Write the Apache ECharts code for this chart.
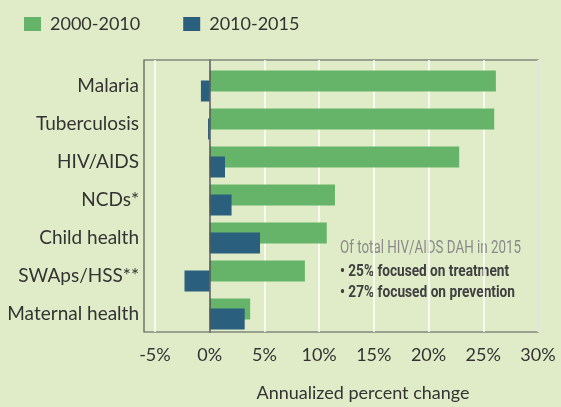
<!DOCTYPE html>
<html>
<head>
<meta charset="utf-8">
<script src="https://cdn.jsdelivr.net/npm/echarts@6/dist/echarts.min.js"></script>
<style>
  html, body { margin: 0; padding: 0; background: #e0ecc8; }
  #chart { width: 561px; height: 407px; }
</style>
</head>
<body>
<div id="chart"></div>
<script>
const categories = ["Malaria", "Tuberculosis", "HIV/AIDS", "NCDs*", "Child health", "SWAps/HSS**", "Maternal health"];
const change2000to2010 = [26.15, 26.0, 22.8, 11.45, 10.7, 8.7, 3.7];
const change2010to2015 = [-0.8, -0.15, 1.4, 2.0, 4.6, -2.3, 3.2];
const xTicks = [-5, 0, 5, 10, 15, 20, 25, 30];
const noteLines = ["Of total HIV/AIDS DAH in 2015", "• 25% focused on treatment", "• 27% focused on prevention"];
// widths of the note lines in the original, used to squeeze the text
const noteWidths = [181, 169, 175];

var chartDom = document.getElementById("chart");
var myChart = echarts.init(chartDom);
var option;

const font = "Lato";
const noteFonts = ["18px Roboto", "bold 17px Roboto", "bold 17px Roboto"];

// measure text so the note can be condensed like the original
const ctx = document.createElement("canvas").getContext("2d");
function squeeze(i) {
  ctx.font = noteFonts[i];
  return noteWidths[i] / ctx.measureText(noteLines[i]).width;
}

option = {
  backgroundColor: "#e0ecc8",
  animation: false,
  legend: {
    left: 19,
    top: 10,
    icon: "rect",
    itemWidth: 17,
    itemHeight: 14,
    itemGap: 43,
    textStyle: { fontFamily: font, fontSize: 18, color: "#333", padding: [0, 0, 0, 4] },
    data: ["2000-2010", "2010-2015"],
  },
  grid: [
    { left: 144, right: 23, top: 60, bottom: 67, show: true, borderColor: "#555", borderWidth: 1.2 },
    { left: 144, right: 23, top: 67, bottom: 74 },
  ],
  xAxis: [
    {
      gridIndex: 0,
      type: "value",
      min: -6,
      max: 30,
      axisLine: { show: false },
      axisTick: { show: false, customValues: xTicks },
      axisLabel: {
        customValues: xTicks,
        formatter: (v) => v + "%",
        fontFamily: font,
        fontSize: 18,
        color: "#333",
        margin: 14,
      },
      splitLine: { show: true, lineStyle: { color: "#ffffff", width: 1.5 } },
      name: "Annualized percent change",
      nameLocation: "middle",
      nameGap: 52,
      nameTextStyle: { fontFamily: font, fontSize: 18, color: "#333", padding: [0, 0, 0, 44] },
    },
    {
      gridIndex: 1,
      type: "value",
      min: -6,
      max: 30,
      show: false,
    },
  ],
  yAxis: [
    {
      gridIndex: 0,
      type: "value",
      min: 0,
      max: 1,
      z: 5,
      axisLine: { show: true, onZero: true, lineStyle: { color: "#555", width: 1.5 } },
      axisTick: { show: false },
      axisLabel: { show: false },
      splitLine: { show: false },
    },
    {
      gridIndex: 1,
      type: "category",
      inverse: true,
      data: categories,
      axisLine: { show: false, onZero: false },
      axisTick: { show: false },
      axisLabel: { fontFamily: font, fontSize: 19, color: "#333", margin: 5 },
      splitLine: { show: false },
    },
  ],
  series: [
    {
      name: "2000-2010",
      type: "bar",
      xAxisIndex: 1,
      yAxisIndex: 1,
      data: change2000to2010,
      barWidth: 21,
      barGap: "-52.4%",
      itemStyle: { color: "#65b46a" },
    },
    {
      name: "2010-2015",
      type: "bar",
      xAxisIndex: 1,
      yAxisIndex: 1,
      data: change2010to2015,
      barWidth: 21,
      barGap: "-52.4%",
      itemStyle: { color: "#2b5f7e" },
    },
  ],
  graphic: [
    {
      type: "group",
      left: 330,
      top: 223,
      z: 10,
      children: [
        { type: "rect", shape: { x: 0, y: 0, width: 200, height: 97 }, style: { fill: "#e0ecc8" } },
        { type: "text", x: 10, y: 25, scaleX: squeeze(0), style: { text: noteLines[0], font: noteFonts[0], fill: "#8a8a8a", verticalAlign: "middle" } },
        { type: "text", x: 10, y: 49, scaleX: squeeze(1), style: { text: noteLines[1], font: noteFonts[1], fill: "#404040", verticalAlign: "middle" } },
        { type: "text", x: 10, y: 70, scaleX: squeeze(2), style: { text: noteLines[2], font: noteFonts[2], fill: "#404040", verticalAlign: "middle" } },
      ],
    },
  ],
};

option && myChart.setOption(option);
</script>
</body>
</html>
